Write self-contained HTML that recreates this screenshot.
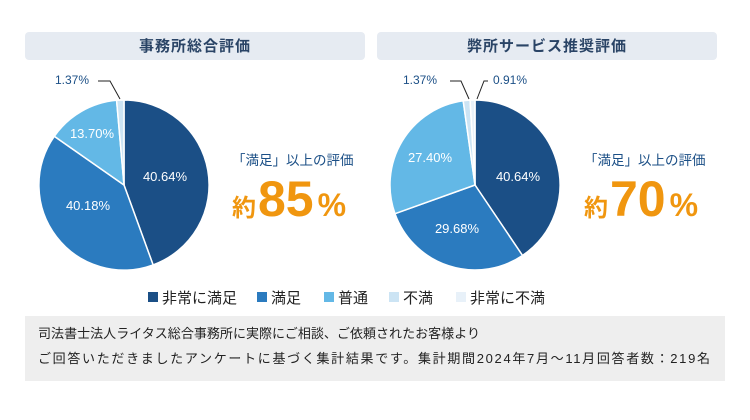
<!DOCTYPE html>
<html><head><meta charset="utf-8"><style>
body{margin:0;width:750px;height:420px;background:#fff;overflow:hidden}
svg{display:block;font-family:"Liberation Sans","Noto Sans CJK JP",sans-serif}
</style></head><body>
<svg width="750" height="420" viewBox="0 0 750 420">
<rect x="25" y="32" width="340" height="28" rx="4" fill="#e6ebf2"/>
<rect x="377" y="32" width="340" height="28" rx="4" fill="#e6ebf2"/>
<text x="195" y="51" text-anchor="middle" font-size="15" font-weight="bold" fill="#2a4466" letter-spacing="1">事務所総合評価</text>
<text x="547" y="51" text-anchor="middle" font-size="15" font-weight="bold" fill="#2a4466" letter-spacing="1">弊所サービス推奨評価</text>
<g stroke="#fff" stroke-width="1.5">
<path d="M124,185 L124,100 A85,85 0 0 1 153.1,264.9 Z" fill="#1b4f86"/>
<path d="M124,185 L153.1,264.9 A85,85 0 0 1 54.3,136.3 Z" fill="#2b7bbf"/>
<path d="M124,185 L54.3,136.3 A85,85 0 0 1 116.6,100.3 Z" fill="#63b8e6"/>
<path d="M124,185 L116.6,100.3 A85,85 0 0 1 124,100 Z" fill="#cce4f4"/>
<path d="M475,185 L475,100 A85,85 0 0 1 522.5,255.5 Z" fill="#1b4f86"/>
<path d="M475,185 L522.5,255.5 A85,85 0 0 1 395,213.7 Z" fill="#2b7bbf"/>
<path d="M475,185 L395,213.7 A85,85 0 0 1 463.2,100.8 Z" fill="#63b8e6"/>
<path d="M475,185 L463.2,100.8 A85,85 0 0 1 470.1,100.1 Z" fill="#cce4f4"/>
<path d="M475,185 L470.1,100.1 A85,85 0 0 1 475,100 Z" fill="#e8f1f9"/>
</g>
<g fill="#fff" font-size="13" text-anchor="middle">
<text x="165" y="181">40.64%</text><text x="88" y="210">40.18%</text><text x="92" y="138">13.70%</text>
<text x="518" y="181">40.64%</text><text x="457" y="233">29.68%</text><text x="430" y="162">27.40%</text>
</g>
<g fill="#1b4f86" font-size="12">
<text x="55" y="84">1.37%</text><text x="403" y="84">1.37%</text><text x="493" y="84">0.91%</text>
</g>
<g stroke="#222" stroke-width="1" fill="none">
<polyline points="98,81 110,81 120,99"/>
<polyline points="450,81 461,81 469,99"/>
<polyline points="488,81 484,81 477,99"/>
</g>
<text x="232" y="165" font-size="13.5" fill="#1b4f86">「満足」以上の評価</text>
<text x="232" y="216" fill="#f0960f" font-weight="bold"><tspan font-size="24">約</tspan><tspan font-size="50" dx="2">85</tspan><tspan font-size="32" dx="4">%</tspan></text>
<text x="584" y="165" font-size="13.5" fill="#1b4f86">「満足」以上の評価</text>
<text x="584" y="216" fill="#f0960f" font-weight="bold"><tspan font-size="24">約</tspan><tspan font-size="50" dx="2">70</tspan><tspan font-size="32" dx="4">%</tspan></text>
<g font-size="15" fill="#222">
<rect x="148" y="292" width="10" height="10" fill="#1b4f86"/><text x="162" y="303">非常に満足</text>
<rect x="257" y="292" width="10" height="10" fill="#2b7bbf"/><text x="271" y="303">満足</text>
<rect x="324" y="292" width="10" height="10" fill="#63b8e6"/><text x="338" y="303">普通</text>
<rect x="389" y="292" width="10" height="10" fill="#cce4f4"/><text x="403" y="303">不満</text>
<rect x="456" y="292" width="10" height="10" fill="#e8f1f9"/><text x="470" y="303">非常に不満</text>
</g>
<rect x="25" y="316" width="700" height="65" fill="#eeeeee"/>
<g font-size="13" fill="#222">
<text x="38" y="338" textLength="442" lengthAdjust="spacing">司法書士法人ライタス総合事務所に実際にご相談、ご依頼されたお客様より</text>
<text x="38" y="363" textLength="672" lengthAdjust="spacing">ご回答いただきましたアンケートに基づく集計結果です。集計期間2024年7月～11月回答者数：219名</text>
</g>
</svg>
</body></html>
